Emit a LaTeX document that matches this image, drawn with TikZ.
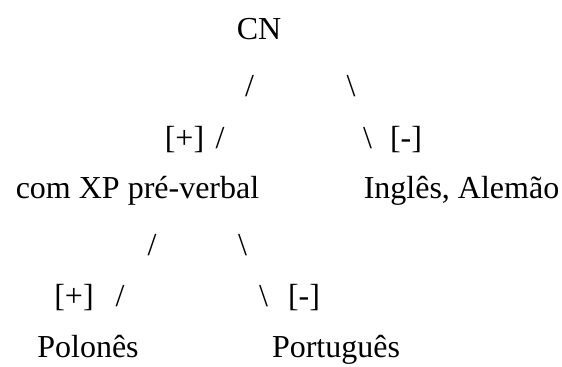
\documentclass[tikz,border=0pt]{standalone}
\usepackage{fontspec}
\setmainfont{Liberation Serif}

\begin{document}
\begin{tikzpicture}[
        x=0.5pt, y=-0.5pt,
        word/.style={anchor=base, inner sep=0pt, font=\fontsize{16}{19}\selectfont},
        feat/.style={word},
        branch/.style={word}
    ]
    \useasboundingbox (0,0) rectangle (562,367);

    % root
    \node[word] (cn) at (259,40) {CN};
    \node[branch] (cnL) at (249.5,97) {/};
    \node[branch] (cnR) at (351,97) {\textbackslash};

    % first split
    \node[feat] (plusA) at (184.5,149) {[+]};
    \node[branch] (slashA) at (220,149) {/};
    \node[branch] (bslashA) at (367.5,149) {\textbackslash};
    \node[feat] (minusA) at (406,149) {[-]};
    \node[word] (xp) at (137.5,199) {com XP pré-verbal};
    \node[word] (ingl) at (461.5,199) {Inglês, Alemão};

    % second split
    \node[branch] (xpL) at (152,256) {/};
    \node[branch] (xpR) at (242.5,256) {\textbackslash};
    \node[feat] (plusB) at (74,307) {[+]};
    \node[branch] (slashB) at (120,307) {/};
    \node[branch] (bslashB) at (263.5,307) {\textbackslash};
    \node[feat] (minusB) at (304,307) {[-]};
    \node[word] (pol) at (88,358) {Polonês};
    \node[word] (port) at (336,358) {Português};
\end{tikzpicture}
\end{document}
